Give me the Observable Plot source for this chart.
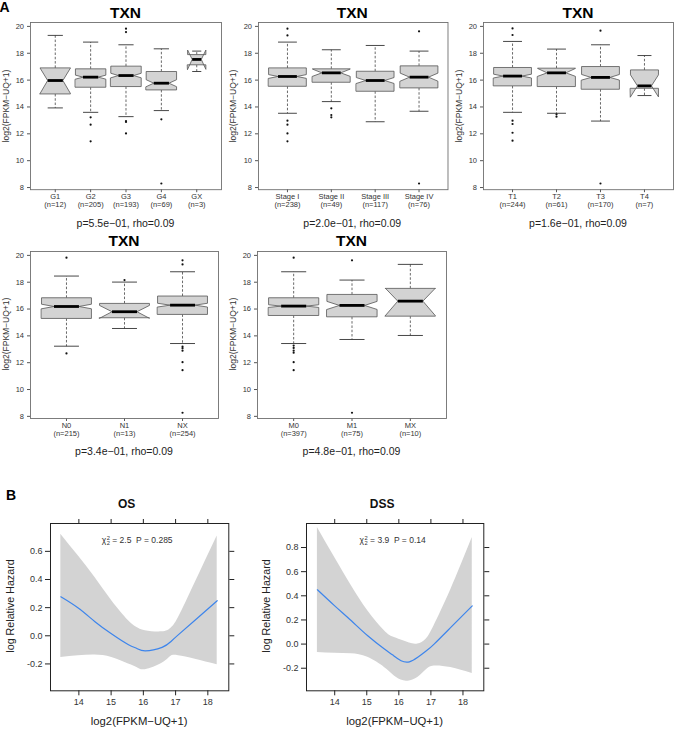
<!DOCTYPE html>
<html><head><meta charset="utf-8">
<script src="https://cdn.jsdelivr.net/npm/d3@7"></script>
<script src="https://cdn.jsdelivr.net/npm/@observablehq/plot@0.6"></script>
<style>
html,body{margin:0;background:#fff}
#root{position:relative;width:676px;height:729px;overflow:hidden;font-family:"Liberation Sans",Arial,Helvetica,sans-serif;color:#222;background:#fff}
.t{position:absolute;white-space:nowrap;transform:translate(-50%,-50%);line-height:1}
.r{transform:translate(-50%,-50%) rotate(-90deg)}
#root svg{position:absolute}
.ss{display:inline-block;vertical-align:-0.32em;line-height:0.8;font-size:0.68em;text-align:left;margin-left:0.5px}
</style></head>
<body><div id="root"></div>
<script>
// ---------- Panel A data (TXN expression, log2(FPKM-UQ+1)) ----------
const gradeCats = ["G1","G2","G3","G4","GX"];
const gradeN    = [12,205,193,69,3];
const gradeLo   = [13.93,13.60,13.28,13.73,16.64];
const gradeQ1   = [14.97,15.47,15.52,15.27,17.14];
const gradeMed  = [15.97,16.22,16.34,15.77,17.54];
const gradeQ3   = [16.91,16.84,17.04,16.64,17.90];
const gradeHi   = [19.33,18.83,18.63,18.33,18.16];
const gradeNotchLo = [15.00,16.07,16.17,15.51,16.80];
const gradeNotchHi = [16.90,16.37,16.51,16.03,18.24];
const gradeOutCat = ["G2","G2","G2","G3","G3","G3","G3","G3","G4","G4"];
const gradeOutVal = [13.23,12.68,11.44,19.83,19.58,12.95,12.88,12.03,13.08,8.30];
const gradeP = "p=5.5e−01, rho=0.09";

const stageCats = ["Stage I","Stage II","Stage III","Stage IV"];
const stageN    = [238,49,117,76];
const stageLo   = [13.53,14.40,12.90,13.68];
const stageQ1   = [15.54,15.84,15.17,15.42];
const stageMed  = [16.27,16.54,15.97,16.22];
const stageQ3   = [16.91,16.84,16.66,17.06];
const stageHi   = [18.83,18.26,18.58,18.16];
const stageNotchLo = [16.13,16.28,15.75,15.92];
const stageNotchHi = [16.41,16.82,16.19,16.52];
const stageOutCat = ["Stage I","Stage I","Stage I","Stage I","Stage I","Stage I","Stage II","Stage II","Stage II","Stage IV","Stage IV"];
const stageOutVal = [19.83,19.33,12.98,12.68,12.03,11.44,13.90,13.40,13.23,19.63,8.30];
const stageP = "p=2.0e−01, rho=0.09";

const tCats = ["T1","T2","T3","T4"];
const tN    = [244,61,170,7];
const tLo   = [13.60,13.53,12.95,14.85];
const tQ1   = [15.57,15.52,15.32,15.39];
const tMed  = [16.30,16.54,16.20,15.57];
const tQ3   = [16.94,16.89,17.01,16.76];
const tHi   = [18.88,18.31,18.63,17.83];
const tNotchLo = [16.16,16.28,16.00,14.75];
const tNotchHi = [16.44,16.87,16.42,16.39];
const tOutCat = ["T1","T1","T1","T1","T1","T1","T2","T2","T3","T3"];
const tOutVal = [19.85,19.36,12.98,12.73,12.08,11.49,13.45,13.28,19.68,8.30];
const tP = "p=1.6e−01, rho=0.09";

const nodeCats = ["N0","N1","NX"];
const nodeN    = [215,13,254];
const nodeLo   = [13.23,14.55,13.43];
const nodeQ1   = [15.30,15.35,15.60];
const nodeMed  = [16.19,15.80,16.29];
const nodeQ3   = [16.84,16.42,16.97];
const nodeHi   = [18.46,18.01,18.78];
const nodeNotchLo = [16.02,15.31,16.15];
const nodeNotchHi = [16.36,16.27,16.43];
const nodeOutCat = ["N0","N0","N1","NX","NX","NX","NX","NX","NX","NX","NX"];
const nodeOutVal = [19.83,12.69,18.16,19.63,19.33,13.20,13.08,12.90,12.04,11.44,8.27];
const nodeP = "p=3.4e−01, rho=0.09";

const metCats = ["M0","M1","MX"];
const metN    = [397,75,10];
const metLo   = [13.43,13.73,14.03];
const metQ1   = [15.52,15.42,15.47];
const metMed  = [16.22,16.27,16.59];
const metQ3   = [16.84,17.09,17.54];
const metHi   = [18.78,18.16,19.33];
const metNotchLo = [16.12,15.97,15.50];
const metNotchHi = [16.32,16.57,17.56];
const metOutCat = ["M0","M0","M0","M0","M0","M0","M0","M1","M1"];
const metOutVal = [19.83,13.28,13.10,12.90,12.74,12.04,11.44,19.63,8.27];
const metP = "p=4.8e−01, rho=0.09";

const geneTitle = "TXN";
const exprLabel = "log2(FPKM−UQ+1)";
const exprTicks = [8,10,12,14,16,18,20];

// ---------- Panel B data (spline Cox fit) ----------
const osX     = [13.44,13.98,14.50,15.02,15.54,15.80,16.06,16.58,16.85,17.09,17.61,18.29];
const osFit   = [0.277,0.197,0.100,0.012,-0.064,-0.090,-0.107,-0.082,-0.042,0.008,0.112,0.249];
const osLower = [-0.154,-0.142,-0.137,-0.154,-0.201,-0.225,-0.241,-0.196,-0.147,-0.142,-0.166,-0.206];
const osUpper = [0.722,0.568,0.414,0.249,0.107,0.059,0.036,0.028,0.052,0.130,0.379,0.710];
const osTicksY = [-0.2,0.0,0.2,0.4,0.6];

const dssX     = [13.46,14.00,14.52,15.03,15.55,15.80,16.07,16.33,16.59,16.85,17.10,17.62,18.29];
const dssFit   = [0.450,0.317,0.193,0.069,-0.041,-0.089,-0.138,-0.147,-0.110,-0.058,0.000,0.138,0.317];
const dssLower = [-0.069,-0.075,-0.080,-0.110,-0.193,-0.249,-0.298,-0.305,-0.276,-0.215,-0.182,-0.195,-0.244];
const dssUpper = [0.966,0.717,0.483,0.276,0.110,0.060,0.033,0.008,0.000,0.040,0.152,0.450,0.883];
const dssTicksY = [-0.2,0.0,0.2,0.4,0.6,0.8];

const hazTicksX = [14,15,16,17,18];
const hazXLabel = "log2(FPKM−UQ+1)";
const hazYLabel = "log Relative Hazard";

// ---------- drawing ----------
const FONT = '"Liberation Sans", Arial, Helvetica, sans-serif';
const root = document.getElementById("root");
const narrowBox = {GX: 0.6, T4: 0.74};   // visual width of small groups

function addText(html, x, y, style = {}, rotate = false) {
  const d = document.createElement("div");
  d.className = "t" + (rotate ? " r" : "");
  d.innerHTML = html;
  d.style.left = x + "px";
  d.style.top = y + "px";
  Object.assign(d.style, style);
  root.appendChild(d);
  return d;
}

function boxPanel(p, frame) {
  const [fl, fr, ft, fb] = frame;
  const k = p.cats.length;
  const pad = 0.04 * k;
  const ml = 30, mr = 3, mt = 3, mb = 24;
  const idx = d3.range(k);
  const hw = i => 0.43 * (narrowBox[p.cats[i]] ?? 1);
  const poly = idx.flatMap(i => {
    const x = i + 1, w = hw(i), nf = 0.5;
    const xs = [-1, 1, 1, nf, 1, 1, -1, -1, -nf, -1];
    const ys = [p.q1[i], p.q1[i], p.nlo[i], p.med[i], p.nhi[i], p.q3[i], p.q3[i], p.nhi[i], p.med[i], p.nlo[i]];
    return xs.map((s, j) => ({g: i, px: x + s * w, py: ys[j]}));
  });
  const outs = p.outCat.map((c, j) => ({ox: p.cats.indexOf(c) + 1, oy: p.outVal[j]}));
  const svg = Plot.plot({
    width: fr - fl + ml + mr,
    height: fb - ft + mt + mb,
    marginLeft: ml, marginRight: mr, marginTop: mt, marginBottom: mb,
    style: {fontFamily: FONT, fontSize: "7.5px", color: "#333", background: "none", overflow: "visible"},
    x: {domain: [0.5 - pad, k + 0.5 + pad], label: null},
    y: {domain: [7.84, 20.29], label: null},
    marks: [
      Plot.axisY({ticks: exprTicks, tickSize: 3, tickPadding: 3.5, label: null, tickFormat: d => String(d), stroke: "#555", fill: "#333", fontSize: 7.5}),
      Plot.axisX({ticks: d3.range(1, k + 1), tickSize: 3, label: null, tickFormat: () => "", stroke: "#555"}),
      Plot.text(idx, {x: i => i + 1, text: i => p.cats[i], frameAnchor: "bottom", dy: 9.5, fontSize: 7.5, fill: "#333"}),
      Plot.text(idx, {x: i => i + 1, text: i => `(n=${p.n[i]})`, frameAnchor: "bottom", dy: 17.8, fontSize: 7.5, fill: "#333"}),
      Plot.link(idx, {x1: i => i + 1, x2: i => i + 1, y1: i => p.q3[i], y2: i => p.hi[i], stroke: "#444", strokeWidth: 0.8, strokeDasharray: "2.5,1.8"}),
      Plot.link(idx, {x1: i => i + 1, x2: i => i + 1, y1: i => p.q1[i], y2: i => p.lo[i], stroke: "#444", strokeWidth: 0.8, strokeDasharray: "2.5,1.8"}),
      Plot.link(idx, {x1: i => i + 1 - hw(i) * 0.5, x2: i => i + 1 + hw(i) * 0.5, y1: i => p.hi[i], y2: i => p.hi[i], stroke: "#333", strokeWidth: 0.9}),
      Plot.link(idx, {x1: i => i + 1 - hw(i) * 0.5, x2: i => i + 1 + hw(i) * 0.5, y1: i => p.lo[i], y2: i => p.lo[i], stroke: "#333", strokeWidth: 0.9}),
      Plot.line(poly, {x: "px", y: "py", z: "g", curve: "linear-closed", fill: "#d3d3d3", stroke: "#555", strokeWidth: 0.8}),
      Plot.link(idx, {x1: i => i + 1 - hw(i) * 0.5, x2: i => i + 1 + hw(i) * 0.5, y1: i => p.med[i], y2: i => p.med[i], stroke: "#000", strokeWidth: 2.8}),
      Plot.dot(outs, {x: "ox", y: "oy", r: 1.1, fill: "#111", stroke: null}),
      Plot.frame({stroke: "#6f6f6f", strokeWidth: 0.9})
    ]
  });
  svg.style.left = (fl - ml) + "px";
  svg.style.top = (ft - mt) + "px";
  root.appendChild(svg);
  const cx = (fl + fr) / 2;
  addText(geneTitle, cx, ft - 9.5, {fontSize: "15.5px", fontWeight: "bold", color: "#000"});
  addText(exprLabel, fl - 24.5, (ft + fb) / 2, {fontSize: "8.5px", color: "#333"}, true);
  addText(p.pText, cx, fb + 33.5, {fontSize: "10.5px", color: "#222"});
}

function hazardPanel(h, frame) {
  const [fl, fr, ft, fb] = frame;
  const ml = 52, mr = 10, mt = 8, mb = 22;
  const idx = d3.range(h.x.length);
  const svg = Plot.plot({
    width: fr - fl + ml + mr,
    height: fb - ft + mt + mb,
    marginLeft: ml, marginRight: mr, marginTop: mt, marginBottom: mb,
    style: {fontFamily: FONT, fontSize: "9px", color: "#333", background: "none", overflow: "visible"},
    x: {domain: [13.12, 18.65], label: null},
    y: {domain: h.ydom, label: null},
    marks: [
      Plot.areaY(idx, {x: i => h.x[i], y1: i => h.lower[i], y2: i => h.upper[i], curve: "natural", fill: "#d3d3d3"}),
      Plot.line(idx, {x: i => h.x[i], y: i => h.fit[i], curve: "natural", stroke: "#3d85ec", strokeWidth: 1.2}),
      Plot.frame({stroke: "#222", strokeWidth: 1}),
      Plot.axisY({ticks: h.ticks, tickSize: 5, tickPadding: 3, label: null, tickFormat: d => d.toFixed(1), stroke: "#222", fill: "#333", fontSize: 9}),
      Plot.axisY({anchor: "right", ticks: h.ticks, tickSize: 5, label: null, tickFormat: () => "", stroke: "#222"}),
      Plot.axisX({ticks: hazTicksX, tickSize: 5, tickPadding: 3, label: null, tickFormat: d => String(d), stroke: "#222", fill: "#333", fontSize: 9}),
      Plot.axisX({anchor: "top", ticks: hazTicksX, tickSize: 5, label: null, tickFormat: () => "", stroke: "#222"})
    ]
  });
  svg.style.left = (fl - ml) + "px";
  svg.style.top = (ft - mt) + "px";
  root.appendChild(svg);
  const cx = (fl + fr) / 2;
  addText(h.title, cx - 12.5, ft - 19, {fontSize: "12px", fontWeight: "bold", color: "#111"});
  addText(h.stat, cx - 2, ft + 18.5, {fontSize: "8.5px", color: "#333"});
  addText(hazYLabel, fl - 40, (ft + fb) / 2, {fontSize: "10.7px", color: "#222"}, true);
  addText(hazXLabel, cx, fb + 32, {fontSize: "11.3px", color: "#222"});
}

// Panel labels
addText("A", 4.5, 6.5, {fontSize: "14px", fontWeight: "bold", color: "#000"});
addText("B", 11, 495, {fontSize: "14px", fontWeight: "bold", color: "#000"});

const mk = (cats, n, lo, q1, med, q3, hi, nlo, nhi, outCat, outVal, pText) =>
  ({cats, n, lo, q1, med, q3, hi, nlo, nhi, outCat, outVal, pText});

boxPanel(mk(gradeCats, gradeN, gradeLo, gradeQ1, gradeMed, gradeQ3, gradeHi, gradeNotchLo, gradeNotchHi, gradeOutCat, gradeOutVal, gradeP), [30, 221, 22.3, 189.5]);
boxPanel(mk(stageCats, stageN, stageLo, stageQ1, stageMed, stageQ3, stageHi, stageNotchLo, stageNotchHi, stageOutCat, stageOutVal, stageP), [257.5, 447, 22.3, 189.5]);
boxPanel(mk(tCats, tN, tLo, tQ1, tMed, tQ3, tHi, tNotchLo, tNotchHi, tOutCat, tOutVal, tP), [483, 673, 22.3, 189.5]);
boxPanel(mk(nodeCats, nodeN, nodeLo, nodeQ1, nodeMed, nodeQ3, nodeHi, nodeNotchLo, nodeNotchHi, nodeOutCat, nodeOutVal, nodeP), [30, 218, 250.5, 417.5]);
boxPanel(mk(metCats, metN, metLo, metQ1, metMed, metQ3, metHi, metNotchLo, metNotchHi, metOutCat, metOutVal, metP), [257, 446, 250.5, 417.5]);

const chi = (c, p) => `χ<span class="ss">2<br>2</span> = ${c}&nbsp; P = ${p}`;
hazardPanel({title: "OS", stat: chi("2.5", "0.285"), x: osX, fit: osFit, lower: osLower, upper: osUpper,
  ydom: [-0.391, 0.798], ticks: osTicksY}, [50, 228.3, 522.7, 690]);
hazardPanel({title: "DSS", stat: chi("3.9", "0.14"), x: dssX, fit: dssFit, lower: dssLower, upper: dssUpper,
  ydom: [-0.387, 0.999], ticks: dssTicksY}, [306, 483.3, 522.7, 690]);
</script>
</body></html>
